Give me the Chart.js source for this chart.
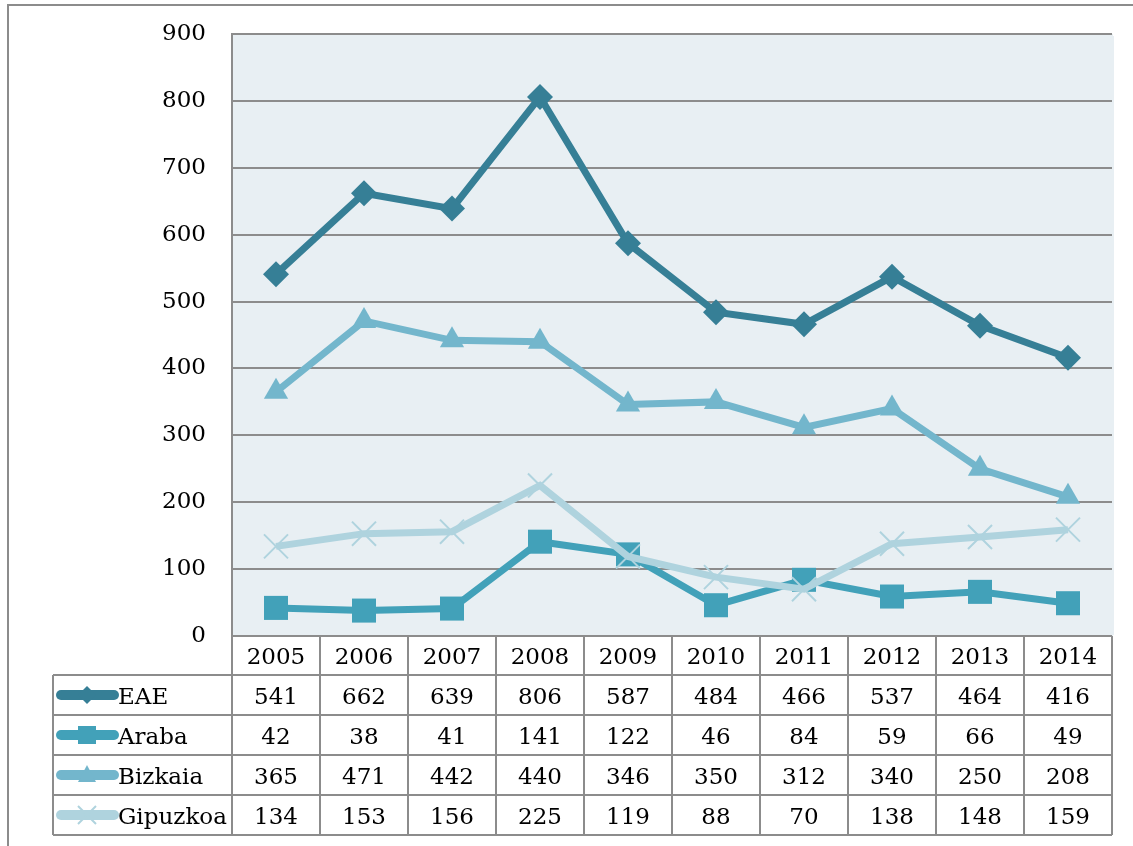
<!DOCTYPE html>
<html><head><meta charset="utf-8">
<script src="https://cdn.jsdelivr.net/npm/chart.js@4/dist/chart.umd.min.js"></script>
<style>
html,body{margin:0;padding:0;background:#fff;}
#wrap{position:relative;width:1133px;height:846px;overflow:hidden;}
#frame{position:absolute;left:7px;top:4px;width:1140px;height:860px;border-top:2px solid #8c8c8c;border-left:2px solid #8c8c8c;}
canvas{position:absolute;left:0;top:0;}
.cell{position:absolute;display:flex;align-items:center;justify-content:center;font-family:'DejaVu Serif',serif;font-size:23px;color:#000;line-height:1;white-space:nowrap;}
.cell.lab{justify-content:flex-start;}
</style></head>
<body>
<div id="wrap"><div id="frame"></div><canvas id="c" width="1133" height="846"></canvas><div id="tbl"></div></div>
<script>
const years = ['2005','2006','2007','2008','2009','2010','2011','2012','2013','2014'];
const seriesNames = ['EAE','Araba','Bizkaia','Gipuzkoa'];
const eae = [541,662,639,806,587,484,466,537,464,416];
const araba = [42,38,41,141,122,46,84,59,66,49];
const bizkaia = [365,471,442,440,346,350,312,340,250,208];
const gipuzkoa = [134,153,156,225,119,88,70,138,148,159];
const yTicks = [0,100,200,300,400,500,600,700,800,900];

const seriesValues = [eae, araba, bizkaia, gipuzkoa];
const colors = ['#367f96','#42a1b9','#73b6cc','#afd3de'];
const styles = [
  {pointStyle:'rectRot', pointRadius:13, pointBorderWidth:0},
  {pointStyle:'rect', pointRadius:17, pointBorderWidth:0},
  {pointStyle:'triangle', pointRadius:14, pointBorderWidth:0},
  {pointStyle:'crossRot', pointRadius:17, pointBorderWidth:2}
];
const GRID = '#8c8c8c';
const PLOT_BG = '#e8eff3';

const bgPlugin = {
  id:'bg',
  beforeDraw(chart){
    const {ctx, chartArea:a} = chart;
    ctx.save(); ctx.fillStyle=PLOT_BG;
    ctx.fillRect(a.left, a.top, a.right-a.left+1, a.bottom-a.top);
    ctx.restore();
  },
  afterDraw(chart){
    const {ctx, chartArea:a} = chart;
    const n = years.length;
    const band = (a.right - a.left)/n;
    const rowTop = a.bottom, hdrH = 39, rowH = 40, legLeft = 53;
    const tableBottom = rowTop + hdrH + rowH*seriesNames.length;
    ctx.save();
    // no right border on the plot area
    ctx.fillStyle = PLOT_BG;
    ctx.fillRect(a.right, a.top + 2, 2, a.bottom - a.top - 3);
    ctx.strokeStyle = GRID; ctx.lineWidth = 2;
    ctx.beginPath();
    ctx.moveTo(a.left, rowTop); ctx.lineTo(a.right, rowTop);
    for (let r=0; r<=seriesNames.length; r++){
      const y = rowTop + hdrH + rowH*r;
      ctx.moveTo(legLeft, y); ctx.lineTo(a.right, y);
    }
    ctx.moveTo(legLeft, rowTop+hdrH); ctx.lineTo(legLeft, tableBottom);
    for (let i=0;i<=n;i++){
      const x = a.left + band*i;
      ctx.moveTo(x, rowTop); ctx.lineTo(x, tableBottom);
    }
    ctx.moveTo(a.left, a.top-1); ctx.lineTo(a.left, a.bottom);
    ctx.stroke();
    seriesNames.forEach((nm, r) => {
      const cy = rowTop + hdrH + rowH*r + rowH/2;
      ctx.strokeStyle = colors[r]; ctx.lineWidth = 10; ctx.lineCap='round';
      ctx.beginPath(); ctx.moveTo(61, cy); ctx.lineTo(114, cy); ctx.stroke();
      ctx.fillStyle = colors[r]; ctx.strokeStyle = colors[r];
      const cx = 87;
      ctx.lineCap='butt';
      if (r===0){ ctx.beginPath(); ctx.moveTo(cx,cy-9); ctx.lineTo(cx+9,cy); ctx.lineTo(cx,cy+9); ctx.lineTo(cx-9,cy); ctx.closePath(); ctx.fill(); }
      else if (r===1){ ctx.fillRect(cx-9,cy-9,18,18); }
      else if (r===2){ ctx.beginPath(); ctx.moveTo(cx,cy-10); ctx.lineTo(cx+9,cy+7); ctx.lineTo(cx-9,cy+7); ctx.closePath(); ctx.fill(); }
      else { ctx.lineWidth=2; ctx.beginPath(); ctx.moveTo(cx-9,cy-9); ctx.lineTo(cx+9,cy+9); ctx.moveTo(cx+9,cy-9); ctx.lineTo(cx-9,cy+9); ctx.stroke(); }
    });
    ctx.restore();
  }
};

const chart = new Chart(document.getElementById('c'), {
  type:'line',
  data:{
    labels: years,
    datasets: seriesNames.map((nm,i)=>Object.assign({
      label: nm, data: seriesValues[i],
      borderColor: colors[i], backgroundColor: colors[i],
      pointBackgroundColor: colors[i], pointBorderColor: colors[i],
      borderWidth: 7, tension: 0, fill:false, clip:false,
      order: seriesNames.length - i
    }, styles[i]))
  },
  options:{
    responsive:false, animation:false, devicePixelRatio:1,
    layout:{padding:{top:34, right:21, bottom:210, left:0}},
    plugins:{legend:{display:false}, tooltip:{enabled:false}},
    scales:{
      x:{type:'category', offset:true, display:false},
      y:{
        min:0, max:900,
        afterBuildTicks(s){ s.ticks = yTicks.map(v=>({value:v})); },
        afterFit(s){ s.width = 232; s.paddingTop = 0; s.paddingBottom = 0; },
        ticks:{color:'#000', padding:26, font:{family:'DejaVu Serif', size:23}},
        grid:{color:GRID, lineWidth:2, drawTicks:false},
        border:{display:false}
      }
    }
  },
  plugins:[bgPlugin]
});

(function(){
  const a = chart.chartArea;
  const n = years.length;
  const band = (a.right - a.left)/n;
  const rowTop = a.bottom, hdrH = 39, rowH = 40;
  const tbl = document.getElementById('tbl');
  function cell(txt, x, y, w, h, cls){
    const d = document.createElement('div');
    d.className = 'cell' + (cls ? ' '+cls : '');
    d.style.left = x+'px'; d.style.top = y+'px'; d.style.width = w+'px'; d.style.height = h+'px';
    d.textContent = txt; tbl.appendChild(d);
  }
  years.forEach((yr,i)=>{
    const cx = chart.scales.x.getPixelForValue(i);
    cell(yr, cx-band/2, rowTop+1, band, hdrH);
  });
  seriesNames.forEach((nm,r)=>{
    const y = rowTop + hdrH + rowH*r;
    cell(nm, 118, y+1, 114, rowH, 'lab');
    seriesValues[r].forEach((v,i)=>{
      const cx = chart.scales.x.getPixelForValue(i);
      cell(String(v), cx-band/2, y+1, band, rowH);
    });
  });
})();
</script>
</body></html>
